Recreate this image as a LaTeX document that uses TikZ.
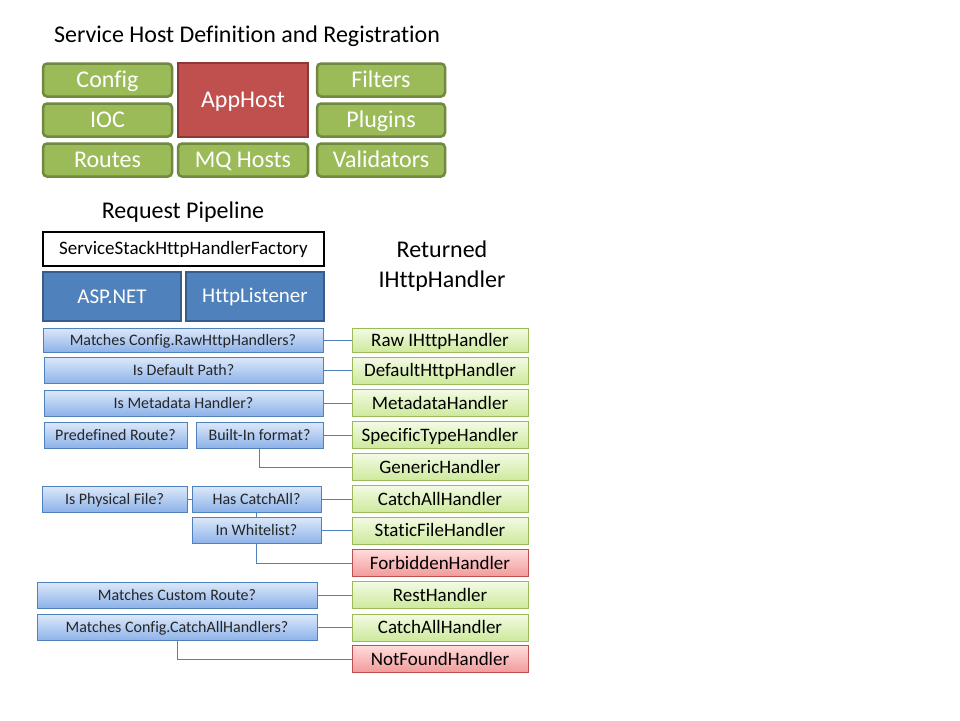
\documentclass[tikz,border=0pt]{standalone}
\usepackage{fontspec}
\setmainfont{Carlito}[Ligatures=CommonOff]

\definecolor{hostgreen}{HTML}{9BBB59}
\definecolor{hostgreenline}{HTML}{71893F}
\definecolor{hostred}{HTML}{C0504D}
\definecolor{hostredline}{HTML}{8C3836}
\definecolor{pipeblue}{HTML}{4F81BD}
\definecolor{pipeblueline}{HTML}{385D8A}
\definecolor{asktop}{HTML}{DCE8FA}
\definecolor{askbottom}{HTML}{8DB3E9}
\definecolor{okktop}{HTML}{F3FBE4}
\definecolor{okbottom}{HTML}{CDE99C}
\definecolor{failtop}{HTML}{FFDCDC}
\definecolor{failbottom}{HTML}{F29A9A}

\begin{document}
\begin{tikzpicture}[
    x=1pt, y=-1pt,
    % Style for the green host parts
    hostpart/.style={draw=hostgreenline, fill=hostgreen, line width=2.5pt, rounded corners=4pt,
        text=white, font=\fontsize{24}{28}\selectfont, minimum height=33pt, inner sep=0pt,
        text height=21pt, text depth=6pt},
    % Style for the dark blue hosting boxes
    hosting/.style={draw=pipeblueline, fill=pipeblue, line width=2.5pt, text=white,
        font=\fontsize{21}{24}\selectfont, minimum width=138pt, minimum height=49pt, inner sep=0pt},
    % Style for the question boxes
    question/.style={draw=pipeblue, top color=asktop, bottom color=askbottom, line width=0.9pt,
        text=black!85, font=\fontsize{16}{18}\selectfont, minimum height=26pt, inner sep=0pt,
        text height=14pt, text depth=4pt},
    % Style for the returned handlers
    handler/.style={draw=hostgreen, top color=okktop, bottom color=okbottom, line width=0.9pt,
        font=\fontsize{19}{22}\selectfont, minimum width=176pt, minimum height=27pt, inner sep=0pt,
        text height=17pt, text depth=5pt},
    failhandler/.style={handler, draw=hostred, top color=failtop, bottom color=failbottom},
    link/.style={draw=pipeblue, line width=0.9pt},
    heading/.style={font=\fontsize{24}{30}\selectfont, align=center}
]
    \useasboundingbox (0,0) rectangle (960,720);

    % --- 1. Service host ---
    \node[heading] (hosttitle) at (247,36) {Service Host Definition and Registration};

    \node[hostpart, minimum width=129pt] (config) at (107.5,80) {Config};
    \node[hostpart, minimum width=129pt] (ioc) at (107.5,120) {IOC};
    \node[hostpart, minimum width=129pt] (routes) at (107.5,160) {Routes};

    \node[hostpart, draw=hostredline, fill=hostred, rounded corners=0pt,
        minimum width=130pt, minimum height=74pt] (apphost) at (243,100) {AppHost};
    \node[hostpart, minimum width=130pt] (mqhosts) at (243,160) {MQ Hosts};

    \node[hostpart, minimum width=128pt] (filters) at (381,80) {Filters};
    \node[hostpart, minimum width=128pt] (plugins) at (381,120) {Plugins};
    \node[hostpart, minimum width=128pt] (validators) at (381,160) {Validators};

    % --- 2. Request pipeline ---
    \node[heading] (pipetitle) at (183,212) {Request Pipeline};
    \node[heading] (returned) at (442,266) {Returned\\IHttpHandler};

    \node[draw=black, line width=2.5pt, minimum width=281pt, minimum height=34pt, inner sep=0pt,
        font=\fontsize{19}{22}\selectfont] (factory) at (183.5,249) {ServiceStackHttpHandlerFactory};
    \node[hosting] (aspnet) at (112,296.5) {ASP.NET};
    \node[hosting] (listener) at (255,296.5) {HttpListener};

    % --- 3. Questions ---
    \node[question, minimum width=280pt, minimum height=24pt] (rawq) at (183,340) {Matches Config.RawHttpHandlers?};
    \node[question, minimum width=279pt] (defaultq) at (183.5,370.5) {Is Default Path?};
    \node[question, minimum width=279pt] (metaq) at (183.5,403) {Is Metadata Handler?};
    \node[question, minimum width=143pt] (predefq) at (115.5,435) {Predefined Route?};
    \node[question, minimum width=127pt] (formatq) at (259.5,435) {Built-In format?};
    \node[question, minimum width=145pt] (physq) at (114.5,499) {Is Physical File?};
    \node[question, minimum width=129pt] (catchq) at (256.5,499) {Has CatchAll?};
    \node[question, minimum width=129pt] (whiteq) at (256.5,530.5) {In Whitelist?};
    \node[question, minimum width=280pt] (customq) at (177,595) {Matches Custom Route?};
    \node[question, minimum width=280pt] (cfgcatchq) at (177,627.5) {Matches Config.CatchAllHandlers?};

    % --- 4. Handlers ---
    \node[handler, minimum height=24pt] (rawh) at (440,340) {Raw IHttpHandler};
    \node[handler] (defaulth) at (440,370.5) {DefaultHttpHandler};
    \node[handler] (metah) at (440,403) {MetadataHandler};
    \node[handler] (specifich) at (440,435) {SpecificTypeHandler};
    \node[handler] (generich) at (440,467) {GenericHandler};
    \node[handler] (catchh) at (440,499) {CatchAllHandler};
    \node[handler] (statich) at (440,530.5) {StaticFileHandler};
    \node[failhandler] (forbiddenh) at (440,563) {ForbiddenHandler};
    \node[handler] (resth) at (440,595) {RestHandler};
    \node[handler] (cfgcatchh) at (440,627.5) {CatchAllHandler};
    \node[failhandler] (notfoundh) at (440,659) {NotFoundHandler};

    % --- 5. Links ---
    \draw[link] (rawq) -- (rawh);
    \draw[link] (defaultq) -- (defaulth);
    \draw[link] (metaq) -- (metah);
    \draw[link] (formatq) -- (specifich);
    \draw[link] (formatq.south) |- (generich.west);
    \draw[link] (physq) -- (catchq);
    \draw[link] (catchq) -- (catchh);
    \draw[link] (catchq) -- (whiteq);
    \draw[link] (whiteq) -- (statich);
    \draw[link] (whiteq.south) |- (forbiddenh.west);
    \draw[link] (customq) -- (resth);
    \draw[link] (cfgcatchq) -- (cfgcatchh);
    \draw[link] (cfgcatchq.south) |- (notfoundh.west);

\end{tikzpicture}
\end{document}
